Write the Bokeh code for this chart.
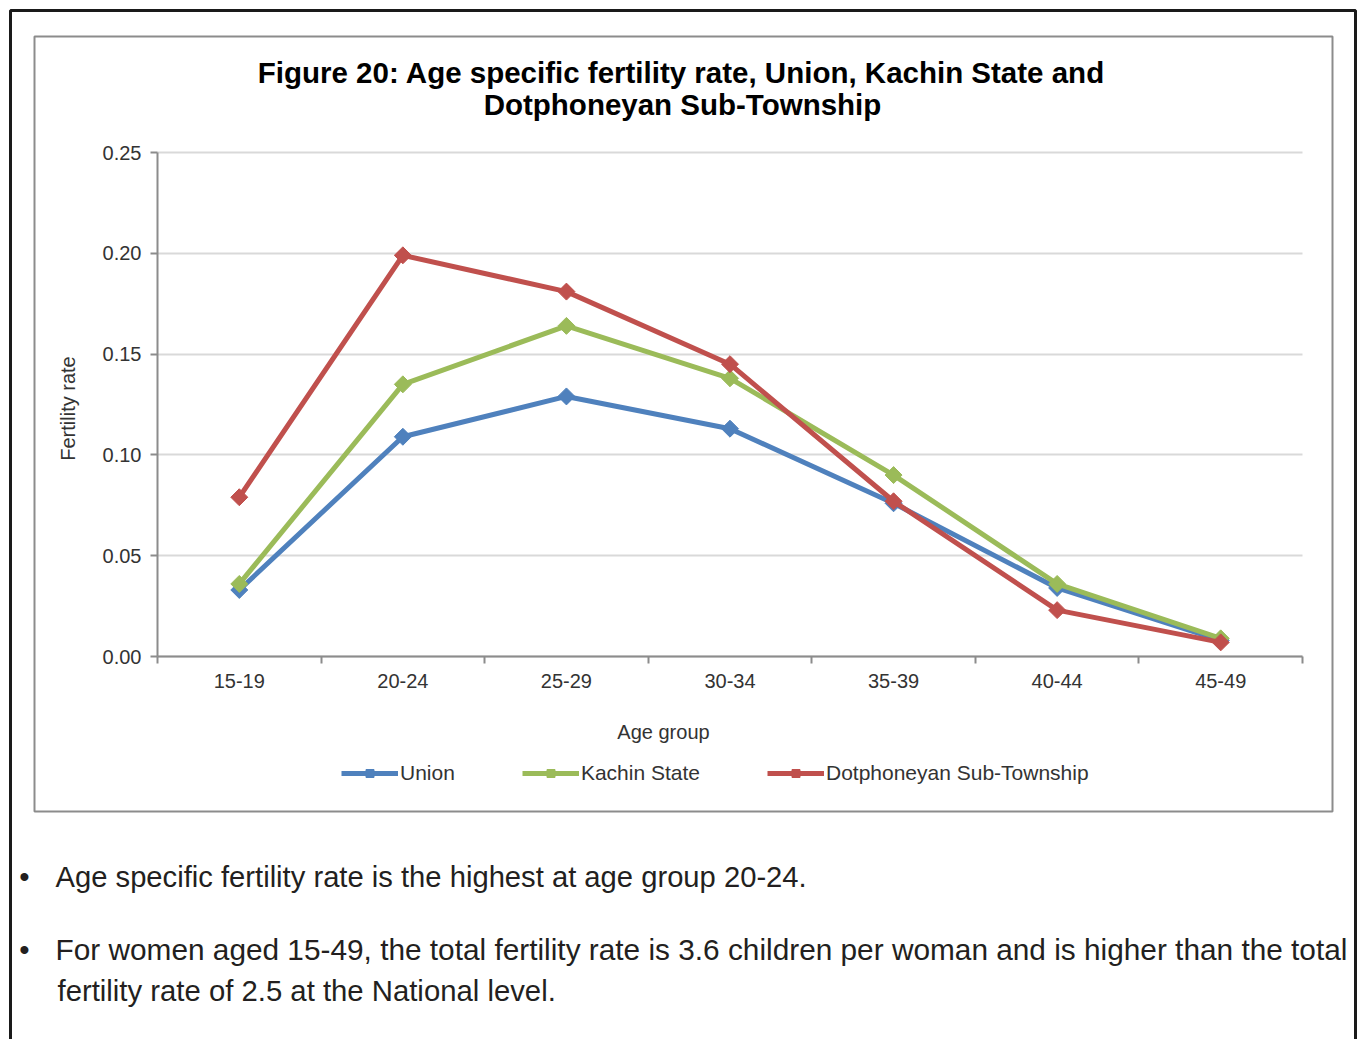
from bokeh.plotting import figure
from bokeh.models import (FixedTicker, CustomJSTickFormatter, PrintfTickFormatter, Label,
                          BoxAnnotation, Legend, LegendItem, Range1d, Grid)
from bokeh.embed import file_html
from bokeh.resources import INLINE

# ---------------- data ----------------
age_groups = ["15-19", "20-24", "25-29", "30-34", "35-39", "40-44", "45-49"]
union = [0.033, 0.109, 0.129, 0.113, 0.076, 0.034, 0.008]
kachin = [0.036, 0.135, 0.164, 0.138, 0.090, 0.036, 0.009]
dotphoneyan = [0.079, 0.199, 0.181, 0.145, 0.077, 0.023, 0.007]
y_ticks = [0.0, 0.05, 0.10, 0.15, 0.20, 0.25]
series_names = ["Union", "Kachin State", "Dotphoneyan Sub-Township"]
series_colors = ["#4f81bd", "#9bbb59", "#c0504d"]
title_lines = ["Figure 20: Age specific fertility rate, Union, Kachin State and",
               "Dotphoneyan Sub-Township"]
x_title = "Age group"
y_title = "Fertility rate"
bullet_1 = "Age specific fertility rate is the highest at age group 20-24."
bullet_2a = "For women aged 15-49, the total fertility rate is 3.6 children per woman and is higher than the total"
bullet_2b = "fertility rate of 2.5 at the National level."

# ---------------- layout (page pixel coordinates) ----------------
FONT = "Liberation Sans"
W, H = 1358, 1039
# plot area inside the canvas (pixels)
PL, PR, PT, PB = 157, 1302, 152, 656
n = len(age_groups)
y_max = y_ticks[-1]

# the frame fills the whole canvas; ranges are chosen so the data area sits at PL..PR, PT..PB
x_per_px = n / (PR - PL)
y_per_px = y_max / (PB - PT)
x_range = Range1d(-PL * x_per_px, n + (W - PR) * x_per_px)
y_range = Range1d(-(H - PB) * y_per_px, y_max + PT * y_per_px)

p = figure(width=W, height=H, output_backend="svg", toolbar_location=None,
           x_range=x_range, y_range=y_range, min_border=0, title=None)
p.outline_line_color = None
p.background_fill_color = "white"
p.border_fill_color = "white"

xs = [i + 0.5 for i in range(n)]

# x axis: labels at category centres, ticks at category boundaries
p.xaxis.fixed_location = 0
p.xaxis.bounds = (0, n)
p.xaxis.ticker = FixedTicker(ticks=xs, minor_ticks=list(range(n + 1)))
p.xaxis.formatter = CustomJSTickFormatter(args=dict(labels=age_groups),
                                          code="return labels[Math.floor(tick)];")
p.xaxis.major_tick_line_color = None
p.xaxis.major_tick_out = 0
p.xaxis.major_tick_in = 0
p.xaxis.minor_tick_out = 7
p.xaxis.minor_tick_in = 0
p.xaxis.minor_tick_line_color = "#8c8c8c"
p.xaxis.minor_tick_line_width = 2
p.xaxis.major_label_standoff = 10

p.yaxis.fixed_location = 0
p.yaxis.bounds = (0, y_max)
p.yaxis.ticker = FixedTicker(ticks=y_ticks)
p.yaxis.formatter = PrintfTickFormatter(format="%.2f")
p.yaxis.major_tick_out = 7
p.yaxis.major_tick_in = 0
p.yaxis.minor_tick_line_color = None
p.yaxis.major_tick_line_color = "#8c8c8c"
p.yaxis.major_tick_line_width = 2
p.yaxis.major_label_standoff = 9

for ax in (p.xaxis, p.yaxis):
    ax.axis_line_color = "#8c8c8c"
    ax.axis_line_width = 2
    ax.major_label_text_font = FONT
    ax.major_label_text_font_size = "20px"
    ax.major_label_text_color = "#333333"

p.xgrid.visible = False
if "cross_bounds" in Grid.properties():
    p.ygrid.ticker = FixedTicker(ticks=y_ticks)
    p.ygrid.cross_bounds = (0, n)
    p.ygrid.grid_line_color = "#d9d9d9"
    p.ygrid.grid_line_width = 2
else:
    p.ygrid.visible = False
    p.segment(x0=[0] * len(y_ticks), x1=[n] * len(y_ticks), y0=y_ticks, y1=y_ticks,
              line_color="#d9d9d9", line_width=2, level="underlay")

# ---------------- series ----------------
items = []
for name, vals, color in zip(series_names, [union, kachin, dotphoneyan], series_colors):
    r1 = p.line(xs, vals, line_color=color, line_width=5)
    r2 = p.scatter(xs, vals, marker="square", angle=0.785398, size=12,
                   fill_color=color, line_color=color)
    items.append(LegendItem(label=name, renderers=[r1, r2]))

legend = Legend(items=items, location=(341, H - 785), orientation="horizontal",
                glyph_width=57, glyph_height=20, label_standoff=2, spacing=67,
                padding=0, margin=0, border_line_color=None, background_fill_alpha=0,
                label_text_font=FONT, label_text_font_size="21px",
                label_text_color="#333333", label_height=20)
p.add_layout(legend)


# ---------------- texts & frames (canvas pixels -> screen units) ----------------
def page_label(text, X, Y, size, bold=False, align="center", angle=0.0, color="#000000"):
    p.add_layout(Label(x=X, y=H - Y, x_units="screen", y_units="screen", text=text,
                       text_align=align, text_baseline="middle", angle=angle,
                       text_font=FONT, text_font_size=size, text_color=color,
                       text_font_style="bold" if bold else "normal"))


def page_box(left, top, right, bottom, color, width):
    p.add_layout(BoxAnnotation(left=left, right=right, top=H - top, bottom=H - bottom,
                               left_units="screen", right_units="screen",
                               top_units="screen", bottom_units="screen",
                               fill_alpha=0, line_color=color, line_width=width, line_alpha=1,
                               level="overlay"))


page_box(10, 10, 1355, 1080, "#1a1a1a", 3)
page_box(34, 36, 1332, 811, "#8c8c8c", 2)

page_label(title_lines[0], 681, 72, "29.5px", bold=True)
page_label(title_lines[1], 682, 104, "29.5px", bold=True)
page_label(x_title, 663, 731, "20px", color="#333333")
page_label(y_title, 67, 408, "20px", angle=1.5707963, color="#333333")

page_label("\u2022", 24, 876, "29.5px", color="#231f20")
page_label(bullet_1, 55, 876, "29.2px", align="left", color="#231f20")
page_label("\u2022", 24, 949, "29.5px", color="#231f20")
page_label(bullet_2a, 55, 949, "29.8px", align="left", color="#231f20")
page_label(bullet_2b, 57, 990, "29.3px", align="left", color="#231f20")

open("out.html", "w").write(file_html(p, INLINE))
